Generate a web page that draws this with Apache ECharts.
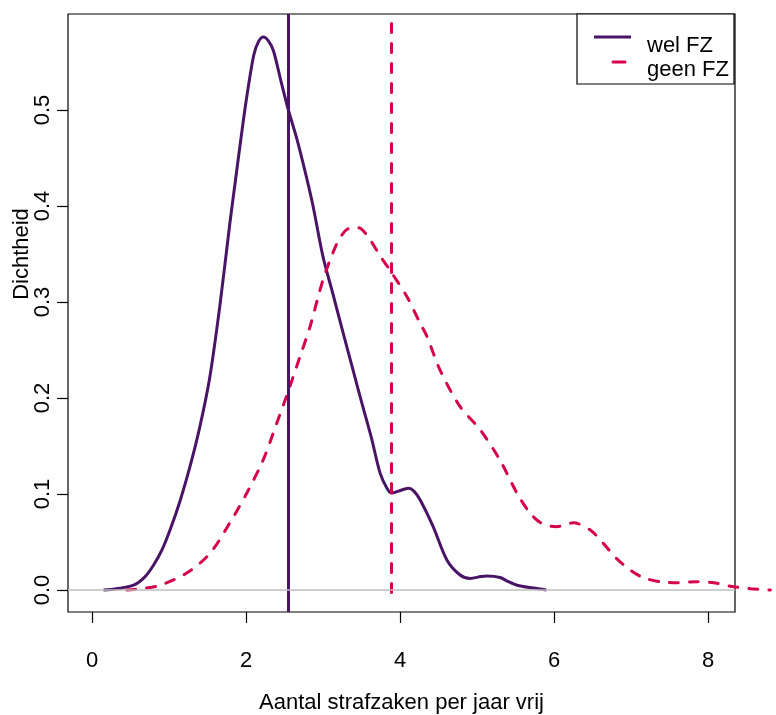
<!DOCTYPE html>
<html>
<head>
<meta charset="utf-8">
<script src="https://cdn.jsdelivr.net/npm/echarts@6/dist/echarts.min.js"></script>
<style>
html,body{margin:0;padding:0;background:#fff;}
#chart{width:776px;height:715px;}
</style>
</head>
<body>
<div id="chart"></div>
<script>
// ---- data ----
const welX = [0.15,0.32,0.54,0.69,0.80,0.91,1.02,1.14,1.27,1.40,1.53,1.66,1.79,1.86,1.94,2.01,2.10,2.16,2.225,2.29,2.355,2.46,2.55,2.66,2.77,2.87,3.00,3.13,3.26,3.39,3.50,3.63,3.74,3.83,3.89,3.98,4.11,4.18,4.26,4.43,4.61,4.78,4.91,5.05,5.13,5.30,5.40,5.52,5.73,5.90];
const welY = [0.000,0.0014,0.005,0.014,0.026,0.042,0.064,0.092,0.128,0.170,0.222,0.296,0.382,0.425,0.474,0.514,0.557,0.571,0.576,0.572,0.562,0.528,0.500,0.470,0.435,0.400,0.347,0.308,0.268,0.229,0.196,0.158,0.122,0.106,0.101,0.103,0.106,0.103,0.094,0.066,0.031,0.0156,0.012,0.014,0.0146,0.013,0.009,0.005,0.002,0.000];
const geenX = [0.45,0.84,1.23,1.53,1.79,2.01,2.22,2.40,2.57,2.70,2.83,3.00,3.18,3.30,3.415,3.50,3.61,3.75,3.87,4.09,4.26,4.35,4.52,4.78,5.04,5.30,5.52,5.69,5.84,6.03,6.25,6.47,6.64,6.81,6.99,7.16,7.38,7.59,7.85,8.07,8.29,8.55,8.81];
const geenY = [0.000,0.004,0.0177,0.038,0.070,0.101,0.135,0.174,0.212,0.243,0.274,0.323,0.361,0.375,0.378,0.376,0.365,0.347,0.333,0.3055,0.278,0.264,0.229,0.191,0.167,0.135,0.1007,0.080,0.0694,0.066,0.070,0.0625,0.0486,0.033,0.0208,0.0128,0.0087,0.0076,0.0087,0.0076,0.004,0.0014,0.000];
const welMean = 2.55;
const geenMean = 3.89;
const geenMeanSpan = [-0.005, 0.59];
const xTicks = [0,2,4,6,8];
const yTicks = [0,0.1,0.2,0.3,0.4,0.5];
const seriesNames = ['wel FZ','geen FZ'];
const xTitle = 'Aantal strafzaken per jaar vrij';
const yTitle = 'Dichtheid';

const PURPLE = '#4a1466';
const RED = '#d6004d';
const FONT = '"Liberation Sans", Arial, Helvetica, sans-serif';
const FS = 22;
const DASH = [9, 11];

const chart = echarts.init(document.getElementById('chart'), null, {renderer:'canvas'});
const zip = (xs, ys) => xs.map((x,i)=>[x, ys[i]]);

// plot box: x 68..735, y 14..612 ; 77 px per x unit
const X0 = -0.312, X1 = 8.35;
const X1wide = X0 + (776 - 68) * (X1 - X0) / (735 - 68);
const Y0 = -0.0229, Y1 = 0.6;

chart.setOption({
  animation:false,
  backgroundColor:'#fff',
  grid:[
    {left:68, right:41, top:14, bottom:103, show:true, borderColor:'#000', borderWidth:1.2, backgroundColor:'transparent', outerBoundsMode:'none'},
    {left:68, right:0, top:14, bottom:103, show:false, outerBoundsMode:'none'}
  ],
  xAxis:[{
    type:'value', min:X0, max:X1, gridIndex:0,
    axisLine:{show:false, onZero:false},
    splitLine:{show:false},
    axisTick:{show:true, customValues:xTicks, length:11, lineStyle:{color:'#000', width:1.2}},
    axisLabel:{customValues:xTicks, margin:38, color:'#000', fontSize:FS, fontFamily:FONT},
    name:xTitle, nameLocation:'middle', nameGap:80,
    nameTextStyle:{color:'#000', fontSize:FS, fontFamily:FONT}
  },{
    type:'value', min:X0, max:X1wide, gridIndex:1, show:false,
    axisLine:{onZero:false}, splitLine:{show:false}
  }],
  yAxis:[{
    type:'value', min:Y0, max:Y1, gridIndex:0,
    axisLine:{show:false, onZero:false},
    splitLine:{show:false},
    axisTick:{show:true, customValues:yTicks, length:11, lineStyle:{color:'#000', width:1.2}},
    axisLabel:{customValues:yTicks, rotate:90, margin:14, color:'#000', fontSize:FS, fontFamily:FONT,
      formatter:v=>v.toFixed(1)}
  },{
    type:'value', min:Y0, max:Y1, gridIndex:1, show:false,
    axisLine:{onZero:false}, splitLine:{show:false}
  }],
  graphic:[
    {type:'text', x:22, y:254, rotation:Math.PI/2,
      style:{text:yTitle, fill:'#000', font:FS+'px '+FONT, textAlign:'center', textVerticalAlign:'middle'}, z:10},
    {type:'rect', shape:{x:577, y:14, width:157, height:70}, style:{fill:'#fff', stroke:'#000', lineWidth:1.2}, z:10},
    {type:'line', shape:{x1:594, y1:37, x2:631, y2:37}, style:{stroke:PURPLE, lineWidth:3}, z:11},
    {type:'line', shape:{x1:613, y1:62, x2:625, y2:62}, style:{stroke:RED, lineWidth:3, lineCap:'round'}, z:11},
    {type:'text', x:647, y:57, style:{text:seriesNames[0], fill:'#000', font:FS+'px '+FONT, textVerticalAlign:'bottom'}, z:11},
    {type:'text', x:647, y:81, style:{text:seriesNames[1], fill:'#000', font:FS+'px '+FONT, textVerticalAlign:'bottom'}, z:11}
  ],
  series:[
    {type:'line', name:seriesNames[0], xAxisIndex:0, yAxisIndex:0, data:zip(welX,welY), smooth:0.3, showSymbol:false, symbol:'none',
      lineStyle:{color:PURPLE, width:3}, z:3,
      markLine:{silent:true, symbol:'none', label:{show:false},
        lineStyle:{color:PURPLE, width:3, type:'solid'}, data:[{xAxis:welMean}]}},
    {type:'line', name:seriesNames[1], xAxisIndex:1, yAxisIndex:1, data:zip(geenX,geenY), smooth:0.3, showSymbol:false, symbol:'none',
      lineStyle:{color:RED, width:3, type:DASH, cap:'round'}, z:3,
      markLine:{silent:true, symbol:'none', label:{show:false},
        lineStyle:{color:RED, width:3, type:DASH, cap:'round'},
        data:[[{coord:[geenMean, geenMeanSpan[1]]},{coord:[geenMean, geenMeanSpan[0]]}]]}},
    {type:'line', xAxisIndex:0, yAxisIndex:0, data:[], z:5,
      markLine:{silent:true, symbol:'none', label:{show:false},
        lineStyle:{color:'#bebebe', width:1.5, type:'solid'}, data:[{yAxis:0}]}}
  ]
});
</script>
</body>
</html>
